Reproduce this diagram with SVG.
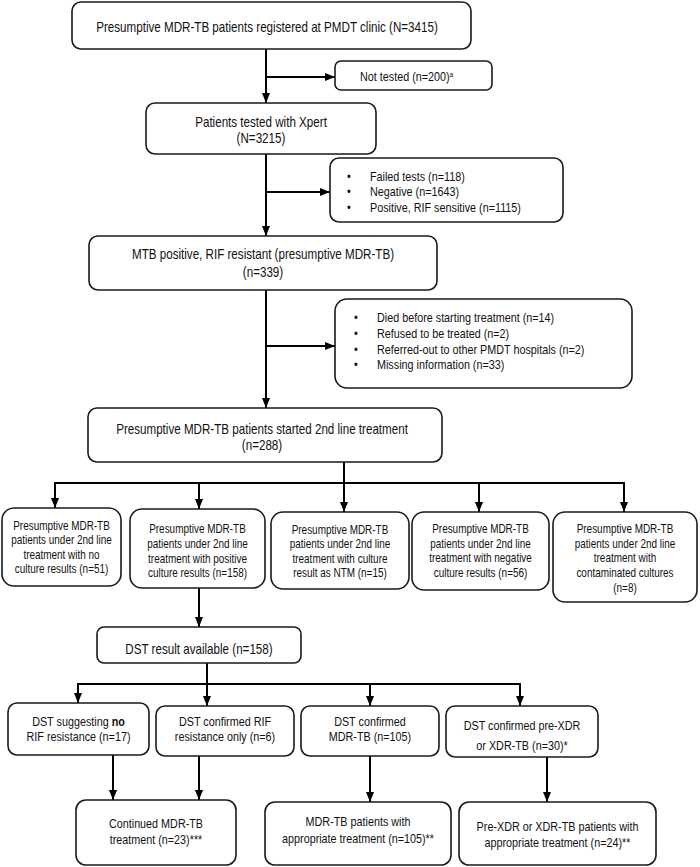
<svg xmlns="http://www.w3.org/2000/svg" width="700" height="867" viewBox="0 0 700 867">
<defs>
<marker id="ah" markerUnits="userSpaceOnUse" markerWidth="10" markerHeight="10" viewBox="0 0 10 10" refX="10" refY="5" orient="auto">
<path d="M0,1 L10,5 L0,9 Z" fill="#000"/>
</marker>
<style>
.b{fill:#fff;stroke:#1a1a1a;stroke-width:1.6}
.c{fill:none;stroke:#000;stroke-width:2}
.a{fill:none;stroke:#000;stroke-width:2;marker-end:url(#ah)}
text{font-family:"Liberation Sans Narrow","Arial Narrow","Liberation Sans",Arial,sans-serif;fill:#111;transform-box:fill-box;transform-origin:center;transform:scaleX(0.83)}
.l{transform-origin:left center}
.m{text-anchor:middle}
.s12{font-size:13px;transform:scaleX(0.765)}
.s13{font-size:13px}
.s14{font-size:14px}
</style>
</defs>
<g id="connectors">
<path class="a" d="M266 49 V103"/>
<path class="a" d="M266 77 H335"/>
<path class="a" d="M266 154 V236"/>
<path class="a" d="M266 192 H330"/>
<path class="a" d="M266 290 V408"/>
<path class="a" d="M266 346 H335"/>
<path class="c" d="M344 462 V483 M55 483 H624"/>
<path class="a" d="M55 482 V508"/>
<path class="a" d="M199 482 V509"/>
<path class="a" d="M344 482 V512"/>
<path class="a" d="M479 482 V512"/>
<path class="a" d="M624 482 V512"/>
<path class="a" d="M199 588 V627"/>
<path class="c" d="M207 663 V684 M78 684 H520"/>
<path class="a" d="M78 683 V703"/>
<path class="a" d="M207 683 V706"/>
<path class="a" d="M370 683 V706"/>
<path class="a" d="M520 683 V706"/>
<path class="a" d="M113 755 V800"/>
<path class="a" d="M199 756 V800"/>
<path class="a" d="M370 756 V802"/>
<path class="a" d="M547 757 V802"/>
</g>
<g id="n-registered"><rect class="b" x="72" y="2" width="399" height="47" rx="9"/><text class="m s14" x="267" y="32">Presumptive MDR-TB patients registered at PMDT clinic (N=3415)</text></g>
<g id="n-nottested"><rect class="b" x="335" y="61" width="157" height="29" rx="6"/><text class="l s13" x="360" y="81">Not tested (n=200)<tspan font-size="8" dy="-4">a</tspan></text></g>
<g id="n-xpert"><rect class="b" x="146" y="103" width="230" height="51" rx="9"/><text class="m s14" x="261" y="127">Patients tested with Xpert</text><text class="m s14" x="261" y="143">(N=3215)</text></g>
<g id="n-failed"><rect class="b" x="330" y="158" width="233" height="64" rx="9"/>
<text class="l s13" x="347" y="181">•</text><text class="l s13" x="370" y="181">Failed tests (n=118)</text>
<text class="l s13" x="347" y="196">•</text><text class="l s13" x="370" y="196">Negative (n=1643)</text>
<text class="l s13" x="347" y="212">•</text><text class="l s13" x="370" y="212">Positive, RIF sensitive (n=1115)</text></g>
<g id="n-mtb"><rect class="b" x="89" y="236" width="348" height="54" rx="9"/><text class="m s14" x="263" y="259">MTB positive, RIF resistant (presumptive MDR-TB)</text><text class="m s14" x="263" y="277">(n=339)</text></g>
<g id="n-died"><rect class="b" x="335" y="299" width="297" height="89" rx="12"/>
<text class="l s13" x="354" y="322">•</text><text class="l s13" x="377" y="322">Died before starting treatment (n=14)</text>
<text class="l s13" x="354" y="338">•</text><text class="l s13" x="377" y="338">Refused to be treated (n=2)</text>
<text class="l s13" x="354" y="354">•</text><text class="l s13" x="377" y="354">Referred-out to other PMDT hospitals (n=2)</text>
<text class="l s13" x="354" y="369">•</text><text class="l s13" x="377" y="369">Missing information (n=33)</text></g>
<g id="n-started"><rect class="b" x="88" y="408" width="354" height="54" rx="9"/><text class="m s14" x="262" y="434">Presumptive MDR-TB patients started 2nd line treatment</text><text class="m s14" x="262" y="450">(n=288)</text></g>
<g id="n-noculture"><rect class="b" x="2" y="508" width="119" height="78" rx="12"/><text class="m s12"><tspan x="61.5" y="530">Presumptive MDR-TB</tspan><tspan x="61.5" y="544.5">patients under 2nd line</tspan><tspan x="61.5" y="559">treatment with no</tspan><tspan x="61.5" y="573.5">culture results (n=51)</tspan></text></g>
<g id="n-positive"><rect class="b" x="130" y="509" width="135" height="79" rx="12"/><text class="m s12"><tspan x="197.5" y="533">Presumptive MDR-TB</tspan><tspan x="197.5" y="548">patients under 2nd line</tspan><tspan x="197.5" y="563">treatment with positive</tspan><tspan x="197.5" y="577">culture results (n=158)</tspan></text></g>
<g id="n-ntm"><rect class="b" x="271" y="512" width="138" height="77" rx="12"/><text class="m s12"><tspan x="340" y="534">Presumptive MDR-TB</tspan><tspan x="340" y="548.5">patients under 2nd line</tspan><tspan x="340" y="563">treatment with culture</tspan><tspan x="340" y="577.5">result as NTM (n=15)</tspan></text></g>
<g id="n-negative"><rect class="b" x="412" y="512" width="137" height="78" rx="12"/><text class="m s12"><tspan x="480.5" y="533">Presumptive MDR-TB</tspan><tspan x="480.5" y="548">patients under 2nd line</tspan><tspan x="480.5" y="562.5">treatment with negative</tspan><tspan x="480.5" y="577">culture results (n=56)</tspan></text></g>
<g id="n-contaminated"><rect class="b" x="553" y="512" width="144" height="90" rx="12"/><text class="m s12"><tspan x="625" y="533">Presumptive MDR-TB</tspan><tspan x="625" y="548">patients under 2nd line</tspan><tspan x="625" y="562.5">treatment with</tspan><tspan x="625" y="577">contaminated cultures</tspan><tspan x="625" y="592">(n=8)</tspan></text></g>
<g id="n-dst"><rect class="b" x="97" y="627" width="204" height="36" rx="7"/><text class="m s14" x="199" y="654">DST result available (n=158)</text></g>
<g id="n-norif"><rect class="b" x="8" y="703" width="141" height="52" rx="9"/><text class="m s13"><tspan x="78.5" y="726">DST suggesting <tspan font-weight="bold">no</tspan></tspan><tspan x="78.5" y="741">RIF resistance (n=17)</tspan></text></g>
<g id="n-rifonly"><rect class="b" x="156" y="706" width="138" height="50" rx="9"/><text class="m s13"><tspan x="225" y="726">DST confirmed RIF</tspan><tspan x="225" y="741">resistance only (n=6)</tspan></text></g>
<g id="n-mdr"><rect class="b" x="301" y="706" width="138" height="50" rx="9"/><text class="m s13"><tspan x="370" y="726">DST confirmed</tspan><tspan x="370" y="741">MDR-TB (n=105)</tspan></text></g>
<g id="n-xdr"><rect class="b" x="446" y="706" width="152" height="51" rx="9"/><text class="m s13"><tspan x="522" y="730">DST confirmed pre-XDR</tspan><tspan x="522" y="750">or XDR-TB (n=30)*</tspan></text></g>
<g id="n-continued"><rect class="b" x="76" y="800" width="160" height="65" rx="10"/><text class="m s13"><tspan x="156" y="828">Continued MDR-TB</tspan><tspan x="156" y="844">treatment (n=23)***</tspan></text></g>
<g id="n-mdrappr"><rect class="b" x="265" y="802" width="186" height="63" rx="10"/><text class="m s13"><tspan x="358" y="826">MDR-TB patients with</tspan><tspan x="358" y="843">appropriate treatment (n=105)**</tspan></text></g>
<g id="n-xdrappr"><rect class="b" x="459" y="802" width="197" height="63" rx="10"/><text class="m s13"><tspan x="557.5" y="831">Pre-XDR or XDR-TB patients with</tspan><tspan x="557.5" y="847">appropriate treatment (n=24)**</tspan></text></g>
</svg>
